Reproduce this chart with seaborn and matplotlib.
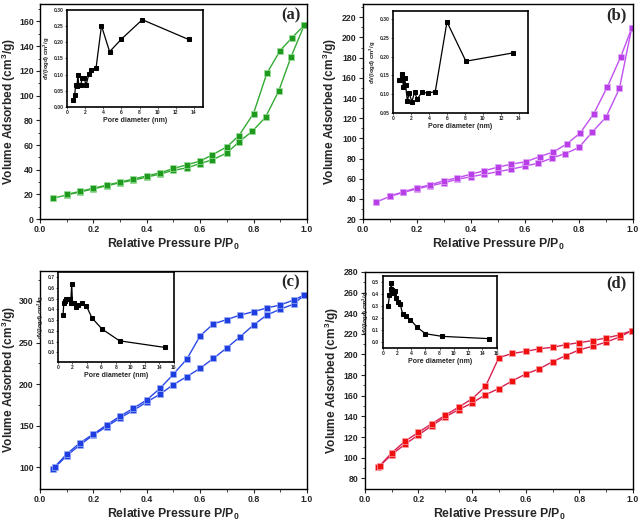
import numpy as np
import matplotlib
matplotlib.use("Agg")
import matplotlib.pyplot as plt
import seaborn as sns

# ---- isotherm data (P/P0, volume cm3/g) ----
a_ads_p = [0.05, 0.1, 0.15, 0.2, 0.25, 0.3, 0.35, 0.4, 0.45, 0.5, 0.55, 0.6, 0.645, 0.7, 0.745, 0.795, 0.845, 0.895, 0.94, 0.99]
a_ads_v = [17, 19.5, 22, 24.5, 27, 29.5, 31.5, 34, 36.5, 39.5, 41.5, 45, 48, 53.5, 62.5, 71, 82.5, 104, 131, 157]
a_des_p = [0.99, 0.945, 0.9, 0.85, 0.8, 0.745, 0.7, 0.645, 0.6, 0.55, 0.5, 0.45, 0.4, 0.35, 0.3, 0.25, 0.2, 0.15, 0.1]
a_des_v = [157, 147, 136.5, 118, 85.5, 67.5, 58.5, 52, 47, 44, 41, 37.5, 35, 32.5, 30, 27.5, 25, 22.5, 20]

b_ads_p = [0.05, 0.1, 0.15, 0.2, 0.25, 0.3, 0.35, 0.4, 0.45, 0.5, 0.55, 0.6, 0.65, 0.7, 0.75, 0.8, 0.85, 0.9, 0.95, 0.995]
b_ads_v = [37, 42.5, 46.5, 50, 53, 56, 59.5, 62, 64.5, 67, 69.5, 72.5, 75.5, 80.5, 85, 91, 106.5, 121, 149.5, 209]
b_des_p = [0.995, 0.955, 0.905, 0.855, 0.805, 0.755, 0.705, 0.655, 0.605, 0.55, 0.5, 0.45, 0.4, 0.35, 0.3, 0.25, 0.2, 0.15, 0.1]
b_des_v = [209, 181, 151, 124.5, 105.5, 94.5, 86.5, 82, 77, 74.5, 71.5, 68, 64.5, 61, 58, 54, 51, 47, 43]

c_ads_p = [0.05, 0.1, 0.15, 0.2, 0.25, 0.3, 0.35, 0.4, 0.45, 0.5, 0.55, 0.6, 0.65, 0.7, 0.75, 0.8, 0.85, 0.9, 0.95, 0.99]
c_ads_v = [98, 114, 127, 139, 149, 159.5, 168.5, 178.5, 188, 199.5, 209, 219, 231, 243.5, 257, 271, 283, 290, 296, 307]
c_des_p = [0.99, 0.95, 0.9, 0.85, 0.8, 0.75, 0.7, 0.65, 0.6, 0.55, 0.5, 0.45, 0.4, 0.35, 0.3, 0.25, 0.2, 0.15, 0.1, 0.055]
c_des_v = [307, 301, 295, 291.5, 287, 283, 277.5, 272.5, 258, 230, 212, 195, 181, 171, 161.5, 151, 140, 129.5, 116, 100.5]

d_ads_p = [0.05, 0.1, 0.15, 0.2, 0.25, 0.3, 0.35, 0.4, 0.45, 0.5, 0.55, 0.6, 0.65, 0.7, 0.75, 0.8, 0.85, 0.9, 0.95, 0.995]
d_ads_v = [90.5, 103, 113, 122, 131, 139.5, 146.5, 153, 161, 167, 174.5, 181, 186, 193, 199, 204.5, 208, 212, 217, 223]
d_des_p = [0.995, 0.95, 0.9, 0.85, 0.8, 0.75, 0.7, 0.65, 0.6, 0.55, 0.5, 0.45, 0.4, 0.35, 0.3, 0.25, 0.2, 0.15, 0.1, 0.055]
d_des_v = [223, 219, 216, 213.5, 211.5, 209.5, 207, 205.5, 203, 201, 197, 169, 157, 149, 141, 133, 124.5, 116, 104.5, 92]

# ---- pore size distribution insets (nm, dV(logd)) ----
a_pore_d = [0.7, 0.85, 0.95, 1.1, 1.2, 1.3, 1.5, 1.7, 1.9, 2.1, 2.4, 2.7, 3.2, 3.8, 4.7, 6.0, 8.3, 13.4]
a_pore_v = [0.023, 0.038, 0.067, 0.065, 0.098, 0.067, 0.067, 0.091, 0.089, 0.067, 0.101, 0.114, 0.12, 0.251, 0.171, 0.21, 0.27, 0.209]
b_pore_d = [0.7, 0.8, 0.95, 1.05, 1.15, 1.3, 1.4, 1.6, 1.8, 2.1, 2.4, 2.7, 3.2, 3.9, 4.7, 6.0, 8.1, 13.3]
b_pore_v = [0.139, 0.139, 0.15, 0.153, 0.12, 0.143, 0.125, 0.082, 0.103, 0.08, 0.105, 0.087, 0.105, 0.103, 0.107, 0.293, 0.188, 0.21]
c_pore_d = [0.7, 0.8, 0.95, 1.1, 1.4, 1.65, 1.75, 1.9, 2.0, 2.2, 2.45, 2.8, 3.25, 3.9, 4.7, 6.1, 8.5, 14.8]
c_pore_v = [0.347, 0.456, 0.48, 0.5, 0.5, 0.5, 0.456, 0.64, 0.456, 0.456, 0.424, 0.44, 0.46, 0.436, 0.32, 0.216, 0.107, 0.045]
d_pore_d = [0.75, 0.95, 1.1, 1.2, 1.3, 1.45, 1.6, 1.75, 1.9, 2.15, 2.45, 2.8, 3.2, 3.9, 4.8, 6.0, 8.35, 14.9]
d_pore_v = [0.297, 0.39, 0.442, 0.492, 0.436, 0.41, 0.41, 0.422, 0.367, 0.33, 0.316, 0.233, 0.22, 0.186, 0.125, 0.069, 0.047, 0.028]

sns.set_theme(style="ticks")
plt.rcParams["font.family"] = ["Liberation Sans", "DejaVu Sans"]
plt.rcParams["font.weight"] = "bold"
plt.rcParams["axes.labelweight"] = "bold"
plt.rcParams["mathtext.fontset"] = "custom"
plt.rcParams["mathtext.rm"] = "Liberation Sans:bold"
plt.rcParams["mathtext.bf"] = "Liberation Sans:bold"
plt.rcParams["mathtext.default"] = "bf"

fig = plt.figure(figsize=(6.4, 5.23), dpi=100)

panels = [
    dict(tag="(a)", ads=(a_ads_p, a_ads_v), des=(a_des_p, a_des_v), pore=(a_pore_d, a_pore_v),
         main=[0.0625, 0.581, 0.417, 0.411], ylim=(0, 174), yt=np.arange(0, 161, 20), ym=10,
         inset=[0.1047, 0.7954, 0.2125, 0.1855], ixlim=(0, 15), ixt=np.arange(0, 15, 2),
         iylim=(0, 0.30), iyt=np.arange(0, 0.31, 0.05), ifmt="{:.2f}",
         col="#1f9a1f", line="#33aa33", edge="#9be09b", ylx=-0.082),
    dict(tag="(b)", ads=(b_ads_p, b_ads_v), des=(b_des_p, b_des_v), pore=(b_pore_d, b_pore_v),
         main=[0.567, 0.581, 0.422, 0.411], ylim=(20, 233), yt=np.arange(20, 221, 20), ym=10,
         inset=[0.614, 0.784, 0.211, 0.195], ixlim=(0, 15), ixt=np.arange(0, 15, 2),
         iylim=(0.05, 0.322), iyt=np.arange(0.05, 0.31, 0.05), ifmt="{:.2f}",
         col="#b83ee8", line="#c050f0", edge="#e0a8f8", ylx=-0.09),
    dict(tag="(c)", ads=(c_ads_p, c_ads_v), des=(c_des_p, c_des_v), pore=(c_pore_d, c_pore_v),
         main=[0.0625, 0.065, 0.417, 0.417], ylim=(74, 336), yt=np.arange(100, 301, 50), ym=25,
         inset=[0.0906, 0.308, 0.181, 0.172], ixlim=(0, 16), ixt=np.arange(0, 17, 2),
         iylim=(-0.09, 0.75), iyt=np.arange(0, 0.71, 0.1), ifmt="{:.1f}",
         col="#1e3ee0", line="#2a48e8", edge="#9fb0f8", ylx=-0.082),
    dict(tag="(d)", ads=(d_ads_p, d_ads_v), des=(d_des_p, d_des_v), pore=(d_pore_d, d_pore_v),
         main=[0.570, 0.065, 0.419, 0.415], ylim=(69.6, 280), yt=np.arange(80, 281, 20), ym=10,
         inset=[0.598, 0.3346, 0.178, 0.1377], ixlim=(0, 16), ixt=np.arange(0, 17, 2),
         iylim=(-0.05, 0.55), iyt=np.arange(0, 0.51, 0.1), ifmt="{:.1f}",
         col="#f01010", line="#d82050", edge="#f8a0a8", ylx=-0.09),
]

for p in panels:
    ax = fig.add_axes(p["main"])
    for px, pv in (p["ads"], p["des"]):
        sns.lineplot(x=px, y=pv, ax=ax, estimator=None, sort=False, color=p["line"], lw=1.0,
                     marker="s", markersize=4.2, markerfacecolor=p["col"],
                     markeredgecolor=p["edge"], markeredgewidth=0.5)
    ax.set_xlim(0, 1.0)
    ax.set_ylim(*p["ylim"])
    ax.set_xticks(np.arange(0, 1.01, 0.2))
    ax.set_xticks(np.arange(0.1, 1.0, 0.2), minor=True)
    ax.set_yticks(p["yt"])
    ax.set_yticks(np.arange(p["yt"][0] + p["ym"], p["ylim"][1], 2 * p["ym"]), minor=True)
    ax.set_xticklabels([f"{t:.1f}" for t in np.arange(0, 1.01, 0.2)])
    ax.tick_params(axis="both", which="major", labelsize=6.3, length=3, width=0.8, pad=1.5)
    ax.tick_params(axis="both", which="minor", length=1.8, width=0.6)
    for s in ax.spines.values():
        s.set_linewidth(1.0)
        s.set_color("black")
    ax.set_xlabel("Relative Pressure P/P$_\\mathbf{0}$", fontsize=8.8, labelpad=2)
    ax.set_ylabel("Volume Adsorbed (cm$^\\mathbf{3}$/g)", fontsize=8.6)
    ax.yaxis.set_label_coords(p["ylx"], 0.5)
    ax.text(0.975, 0.985, p["tag"], transform=ax.transAxes, ha="right", va="top",
            fontsize=12, fontweight="bold", family="Liberation Serif")

    ins = fig.add_axes(p["inset"])
    sns.lineplot(x=p["pore"][0], y=p["pore"][1], ax=ins, estimator=None, sort=False,
                 color="black", lw=0.9, marker="s", markersize=2.6,
                 markerfacecolor="black", markeredgecolor="black")
    ins.set_xlim(*p["ixlim"])
    ins.set_ylim(*p["iylim"])
    ins.set_xticks(p["ixt"])
    ins.set_yticks(p["iyt"])
    ins.set_yticklabels([p["ifmt"].format(t) for t in p["iyt"]])
    ins.tick_params(axis="both", labelsize=3.6, length=1.5, width=0.5, pad=1)
    for s in ins.spines.values():
        s.set_linewidth(1.2)
        s.set_color("black")
    ins.set_xlabel("Pore diameter (nm)", fontsize=5, labelpad=1)
    ins.set_ylabel("dV(logd) cm$^\\mathbf{3}$/g", fontsize=4.2, labelpad=1)

fig.savefig("out.png", dpi=100)
